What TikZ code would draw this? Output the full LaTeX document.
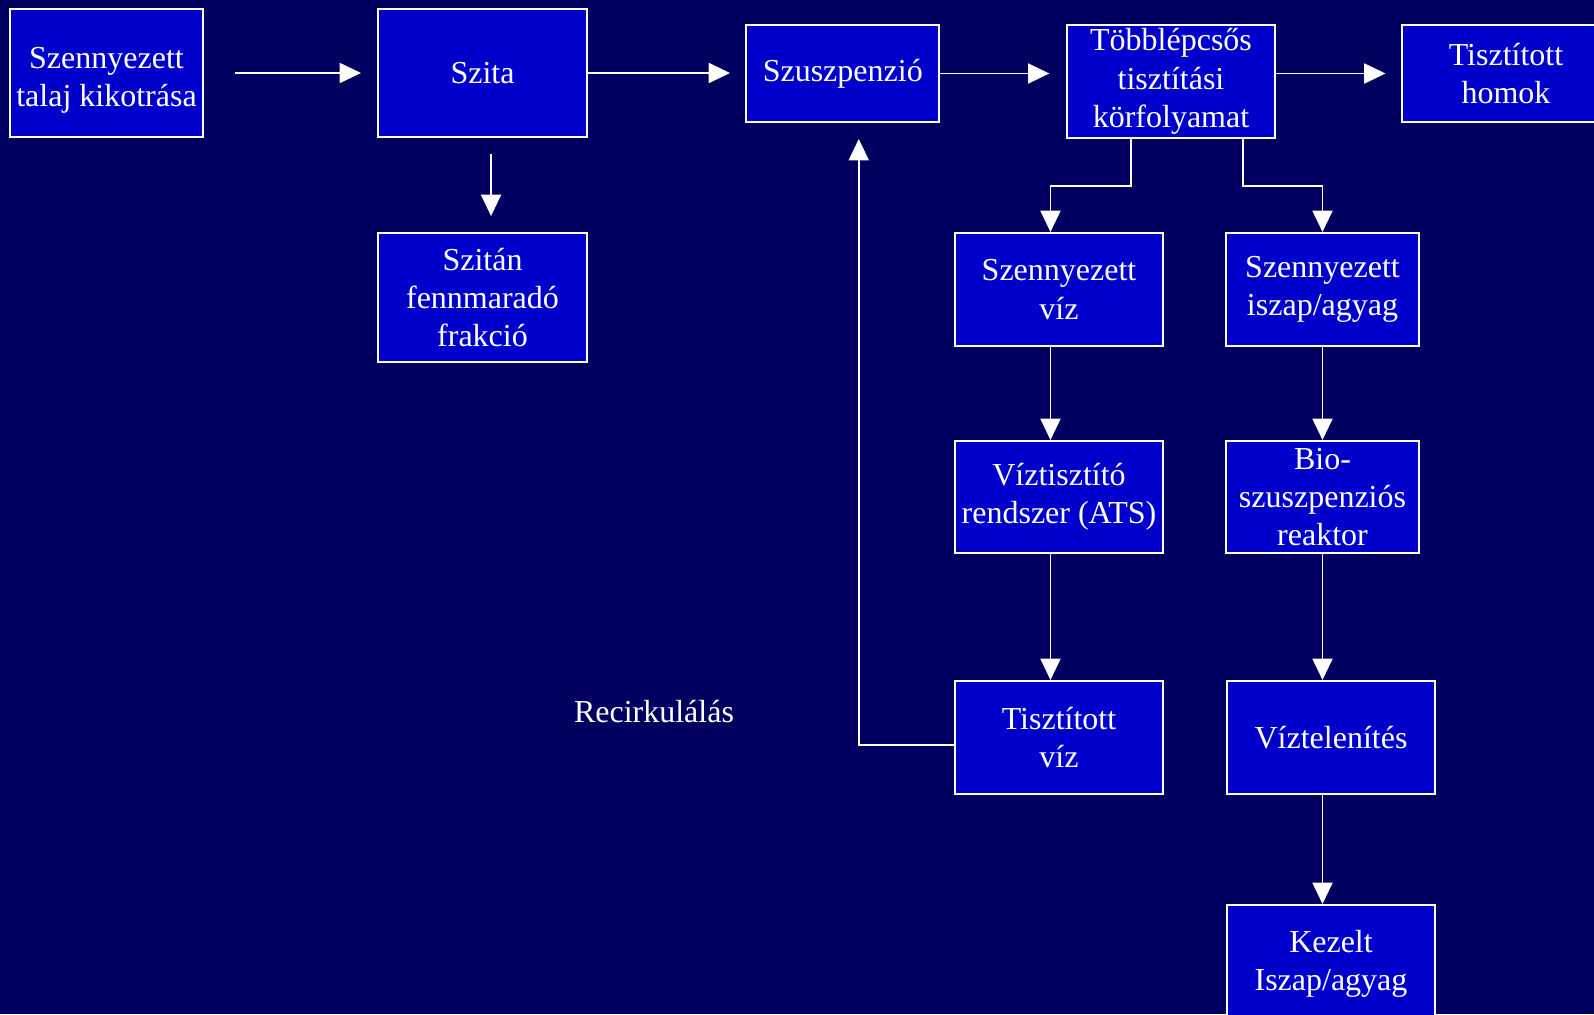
\documentclass[tikz,border=0pt]{standalone}
\usepackage{fontspec}
\setmainfont{Liberation Serif}
\usetikzlibrary{arrows.meta}
\definecolor{navybg}{RGB}{0,0,96}
\definecolor{boxblue}{RGB}{0,0,204}

\begin{document}
\begin{tikzpicture}[x=0.75pt,y=-0.75pt,
  stage/.style={draw=white,line width=1.5pt,fill=boxblue,text=white,align=center,
    inner sep=2pt,font=\fontsize{24}{28.8}\selectfont},
  flow/.style={draw=white,line width=1.4pt,-{Triangle[length=16pt,width=15pt]}}]
\clip (0,0) rectangle (1594,1014);
\fill[navybg] (0,0) rectangle (1594,1014);
% upper row
\node[stage,minimum width=144.75pt,minimum height=96pt,
  label={[text=white,align=center,font=\fontsize{24}{28.8}\selectfont,yshift=-5.5pt]center:Szennyezett\\talaj kikotrása}] (kotras) at (106.5,73) {};
\node[stage,minimum width=156.75pt,minimum height=96pt] (szita) at (482.5,73) {Szita};
\node[stage,minimum width=156.75pt,minimum height=96.75pt] (szitan) at (482.5,297.5) {Szitán\\fennmaradó\\frakció};
\node[stage,minimum width=144.4pt,minimum height=72.75pt] (szusz) at (842.75,73.5) {Szuszpenzió};
\node[stage,minimum width=156pt,minimum height=84.75pt] (tobb) at (1171,81.5) {Többlépcsős\\tisztítási\\körfolyamat};
\node[stage,minimum width=156pt,minimum height=72.75pt] (homok) at (1506,73.5) {Tisztított\\homok};
% water branch
\node[stage,minimum width=156pt,minimum height=84.75pt] (szviz) at (1059,289.5) {Szennyezett\\víz};
\node[stage,minimum width=156pt,minimum height=84pt] (ats) at (1059,497) {Víztisztító\\rendszer (ATS)};
\node[stage,minimum width=156pt,minimum height=84.75pt] (tviz) at (1059,737.5) {Tisztított\\víz};
% sludge branch
\node[stage,minimum width=144.75pt,minimum height=84.75pt] (iszap) at (1322.5,289.5) {Szennyezett\\iszap/agyag};
\node[stage,minimum width=144.75pt,minimum height=84pt] (bio) at (1322.5,497) {Bio-\\szuszpenziós\\reaktor};
\node[stage,minimum width=156pt,minimum height=84.75pt] (viztel) at (1331,737.5) {Víztelenítés};
\node[stage,minimum width=156pt,minimum height=88.5pt] (kezelt) at (1331,964) {Kezelt\\Iszap/agyag};
\node[text=white,font=\fontsize{24}{28.8}\selectfont] (recirk) at (654,712) {Recirkulálás};
% connectors
\draw[flow,shorten <=23pt,shorten >=12pt] (kotras.east) -- (szita.west);
\draw[flow,shorten >=11.6pt] (szita.east) -- (szita.east -| szusz.west);
\draw[flow,shorten >=12.5pt] (szusz.east) -- (szusz.east -| tobb.west);
\draw[flow,shorten >=11.6pt] (homok.west -| tobb.east) -- (homok.west);
\draw[flow,shorten <=12pt,shorten >=12pt] ([xshift=6.4pt]szita.south) -- ([xshift=6.4pt]szitan.north);
\draw[flow] ([xshift=-30pt]tobb.south) -- ++(0,47) -| ([xshift=-6.4pt]szviz.north);
\draw[flow] ([xshift=54pt]tobb.south) -- ++(0,47) -| (iszap.north);
\draw[flow] ([xshift=-6.4pt]szviz.south) -- ([xshift=-6.4pt]ats.north);
\draw[flow] ([xshift=-6.4pt]ats.south) -- ([xshift=-6.4pt]tviz.north);
\draw[flow] (iszap.south) -- (bio.north);
\draw[flow] (bio.south) -- (bio.south |- viztel.north);
\draw[flow] (viztel.south -| bio.south) -- (kezelt.north -| bio.south);
\draw[flow,shorten >=12pt] ([yshift=-5.6pt]tviz.west) -| ([xshift=12pt]szusz.south); % recirculation
\end{tikzpicture}
\end{document}
